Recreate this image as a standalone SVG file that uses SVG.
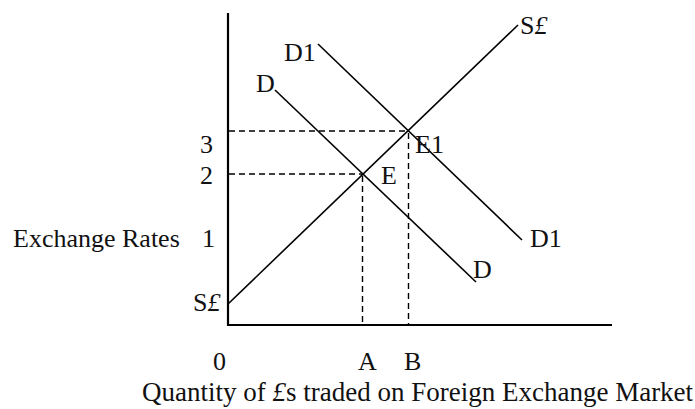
<svg xmlns="http://www.w3.org/2000/svg" width="695" height="409" viewBox="0 0 695 409">
<style>
text{font-family:"Liberation Serif","Times New Roman",serif;font-size:26px;fill:#111}
.ax{stroke:#000;stroke-width:2.2;fill:none}
.ln{stroke:#000;stroke-width:1.6;fill:none}
.ds{stroke:#000;stroke-width:1.4;fill:none;stroke-dasharray:6 4}
</style>
<rect width="695" height="409" fill="#fff"/>
<g id="connectors">
<line class="ax" x1="228" y1="13" x2="228" y2="326"/>
<line class="ax" x1="227" y1="325" x2="612" y2="325"/>
<line class="ds" x1="229" y1="131" x2="408.5" y2="131"/>
<line class="ds" x1="229" y1="174" x2="362.5" y2="174"/>
<line class="ds" x1="362.5" y1="176" x2="362.5" y2="324"/>
<line class="ds" x1="408.5" y1="133" x2="408.5" y2="324"/>
</g>
<g id="supply"><line class="ln" x1="228" y1="304" x2="518" y2="25"/></g>
<g id="demand"><line class="ln" x1="275" y1="90" x2="476" y2="282"/></g>
<g id="demand1"><line class="ln" x1="318" y1="44" x2="522" y2="240"/></g>
<g id="labels">
<text x="520" y="34">S<tspan font-style="italic">£</tspan></text>
<text x="284" y="61">D1</text>
<text x="256" y="92">D</text>
<text x="415" y="153">E1</text>
<text x="381" y="184">E</text>
<text x="530" y="247">D1</text>
<text x="473" y="278">D</text>
<text x="193" y="311">S<tspan font-style="italic">£</tspan></text>
<text x="200" y="153">3</text>
<text x="200" y="184">2</text>
<text x="13" y="247">Exchange Rates</text>
<text x="202" y="247">1</text>
<text x="213" y="370">0</text>
<text x="358" y="370">A</text>
<text x="404" y="370">B</text>
<text x="142" y="401" style="font-size:27px">Quantity of <tspan font-style="italic">£</tspan>s traded on Foreign Exchange Market</text>
</g>
</svg>
